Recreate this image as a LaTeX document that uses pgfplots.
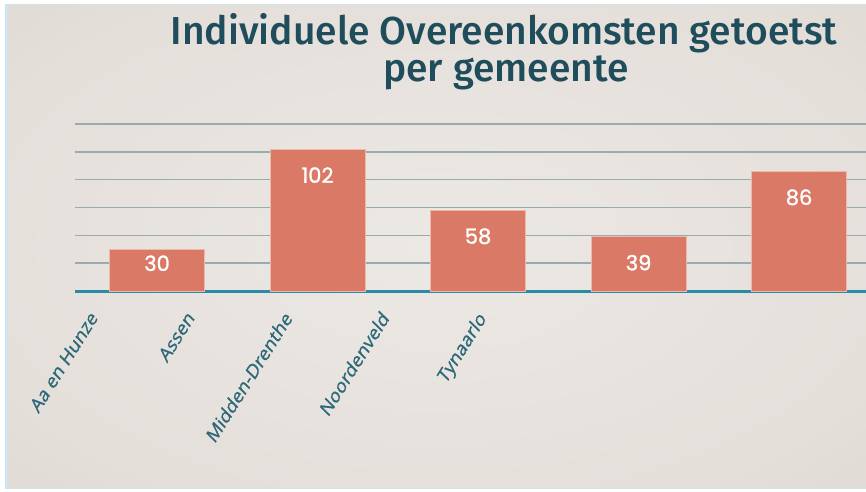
\documentclass[border=0pt]{standalone}
\usepackage{pgfplots}
\pgfplotsset{compat=1.18}
\usepackage{fontspec}
\setmainfont{Fira Sans}
\newfontfamily\titlefont{Fira Sans}[UprightFont=* Medium]
\newfontfamily\numfont{Poppins}[FakeBold=1.2]
\newfontfamily\labfont{Open Sans}[FakeBold=0.8]
\definecolor{bgin}{HTML}{ECE8E4}
\definecolor{bgmid}{HTML}{D8D0C9}
\definecolor{bgout}{HTML}{CDC3BB}
\definecolor{edgec}{HTML}{CFE4EC}
\definecolor{titlec}{HTML}{1F4D5B}
\definecolor{labc}{HTML}{2C6878}
\definecolor{gridc}{HTML}{98ACB0}
\definecolor{axisc}{HTML}{2B8AA6}
\definecolor{barc}{HTML}{DA7A66}
\definecolor{baredge}{HTML}{ECB9AC}
\pgfdeclareradialshading{bgshade}{\pgfpoint{0bp}{0bp}}{color(0bp)=(bgin); color(30bp)=(bgin!60!bgmid); color(50bp)=(bgmid); color(72bp)=(bgout)}
\begin{document}
\begin{tikzpicture}[x=1pt,y=1pt]
\useasboundingbox (0,0) rectangle (866,491);
\fill[white] (0,0) rectangle (866,491);
\fill[edgec] (5,2) rectangle (866,487);
\shade[shading=bgshade] (8,4) rectangle (866,485);
\node[anchor=base, text=titlec, font=\titlefont\fontsize{39}{44}\selectfont] at (504,446) {Individuele Overeenkomsten getoetst};
\node[anchor=base, text=titlec, font=\titlefont\fontsize{39}{44}\selectfont] at (506,409) {per gemeente};
\begin{axis}[
  at={(75pt,200pt)}, anchor=south west,
  scale only axis, width=791pt, height=167pt,
  xmin=-0.511, xmax=4.417, ymin=0, ymax=120,
  axis x line*=bottom, axis y line*=left,
  x axis line style={-, color=axisc, line width=3pt},
  y axis line style={draw=none},
  ytick={20,40,...,120}, yticklabels={},
  ymajorgrids, grid style={color=gridc, line width=1.5pt},
  major tick length=0pt,
  /pgf/number format/assume math mode=true,
  xtick={-0.368,0.236,0.841,1.445,2.049},
  xticklabels={Aa en Hunze,Assen,Midden-Drenthe,Noordenveld,Tynaarlo},
  xticklabel style={xshift=-9pt, yshift=-18pt, yscale=1.25, rotate=52, anchor=north east, inner sep=0pt,
    text=labc, font=\labfont\fontsize{16.5}{16.5}\selectfont},
  clip=false,
]
\addplot[ybar, bar width=95pt, fill=barc, draw=baredge, line width=0.8pt,
  nodes near coords,
  every node near coord/.append style={anchor=center, yshift=-26pt, text=white,
    font=\numfont\fontsize{21}{21}\selectfont}]
  coordinates {(1,102) (2,58) (3,39) (4,86)};
\addplot[ybar, bar width=95pt, fill=barc, draw=baredge, line width=0.8pt,
  nodes near coords,
  every node near coord/.append style={anchor=center, yshift=-14pt, text=white,
    font=\numfont\fontsize{21}{21}\selectfont}]
  coordinates {(0,30)};
\end{axis}
\end{tikzpicture}
\end{document}
